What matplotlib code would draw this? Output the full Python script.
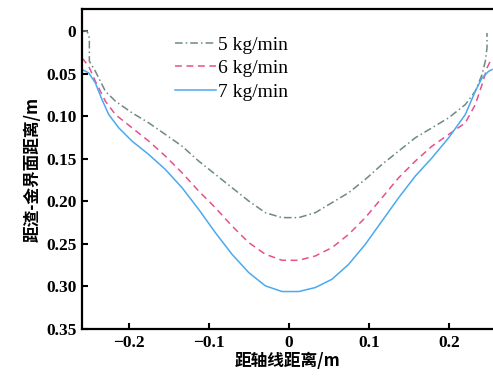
import numpy as np
import matplotlib
matplotlib.use('Agg')
import matplotlib.pyplot as plt

########################################################
# data (x in m, depth in m)
x_5 = [-0.2588, -0.2525, -0.2496, -0.2496, -0.2421, -0.2296, -0.2171, -0.1963, -0.1754, -0.1546,
       -0.1338, -0.1129, -0.0921, -0.0713, -0.0504, -0.0296, -0.0088, 0.0121, 0.0329, 0.0538,
       0.0746, 0.0954, 0.1163, 0.1371, 0.1579, 0.1788, 0.1996, 0.2204, 0.2329, 0.2413,
       0.2454, 0.2475, 0.2475]
y_5 = [0.0, 0.0, 0.0082, 0.0355, 0.0473, 0.0707, 0.0824, 0.0961, 0.1079, 0.1215,
       0.1352, 0.1528, 0.1684, 0.1840, 0.1997, 0.2134, 0.2192, 0.2192, 0.2134, 0.2016,
       0.1899, 0.1743, 0.1567, 0.1410, 0.1254, 0.1137, 0.1020, 0.0864, 0.0707, 0.0512,
       0.0355, 0.0199, 0.0023]

x_6 = [-0.2588, -0.2504, -0.2421, -0.2296, -0.2171, -0.1963, -0.1754, -0.1546, -0.1338, -0.1129,
       -0.0921, -0.0713, -0.0504, -0.0296, -0.0088, 0.0121, 0.0329, 0.0538, 0.0746, 0.0954,
       0.1163, 0.1371, 0.1579, 0.1788, 0.1996, 0.2204, 0.2329, 0.2413, 0.2475, 0.2517]
y_6 = [0.0317, 0.0414, 0.0590, 0.0824, 0.0981, 0.1137, 0.1293, 0.1469, 0.1665, 0.1880,
       0.2075, 0.2290, 0.2485, 0.2622, 0.2693, 0.2693, 0.2642, 0.2544, 0.2388, 0.2192,
       0.1958, 0.1723, 0.1528, 0.1352, 0.1215, 0.1079, 0.0864, 0.0629, 0.0434, 0.0355]

x_7 = [-0.2588, -0.2504, -0.2421, -0.2338, -0.2254, -0.2129, -0.1963, -0.1754, -0.1546, -0.1338,
       -0.1129, -0.0921, -0.0713, -0.0504, -0.0296, -0.0088, 0.0121, 0.0329, 0.0538, 0.0746,
       0.0954, 0.1163, 0.1371, 0.1579, 0.1788, 0.1996, 0.2204, 0.2329, 0.2413, 0.2496, 0.2538]
y_7 = [0.0453, 0.0492, 0.0610, 0.0805, 0.0981, 0.1137, 0.1293, 0.1450, 0.1626, 0.1840,
       0.2095, 0.2368, 0.2622, 0.2837, 0.2993, 0.3060, 0.3060, 0.3013, 0.2915, 0.2740,
       0.2505, 0.2231, 0.1958, 0.1704, 0.1489, 0.1254, 0.0981, 0.0707, 0.0551, 0.0473, 0.0453]

labels = ['5 kg/min', '6 kg/min', '7 kg/min']
xticks = [-0.2, -0.1, 0, 0.1, 0.2]
xtick_labels = ['\u22120.2', '\u22120.1', '0', '0.1', '0.2']
yticks = [0, 0.05, 0.10, 0.15, 0.20, 0.25, 0.30, 0.35]
ytick_labels = ['0', '0.05', '0.10', '0.15', '0.20', '0.25', '0.30', '0.35']

########################################################
cjk = ['Noto Sans CJK SC', 'DejaVu Sans']
serif = 'Liberation Serif'

fig = plt.figure(figsize=(4.93, 3.78), dpi=100)
ax = fig.add_axes([0.1663, 0.1296, 0.8337, 0.8466])

ax.plot(x_5, y_5, color='#6e8a84', linestyle=(0, (5, 2, 1, 2)), linewidth=1.1, label=labels[0])
ax.plot(x_6, y_6, color='#e8508c', linestyle=(0, (4.5, 3)), linewidth=1.1, label=labels[1])
ax.plot(x_7, y_7, color='#4ba9f0', linestyle='-', linewidth=1.1, label=labels[2])

ax.set_xlim(-0.2588, 0.255)
ax.set_ylim(0.3494, -0.0258)

ax.set_xticks(xticks)
ax.set_xticklabels(xtick_labels, fontfamily=serif, fontweight='bold', fontsize=12.5)
ax.set_yticks(yticks)
ax.set_yticklabels(ytick_labels, fontfamily=serif, fontweight='bold', fontsize=12.5)
ax.tick_params(direction='in', length=4, width=1.5, pad=4)

for s in ['left', 'bottom', 'top']:
    ax.spines[s].set_linewidth(1.6)
ax.spines['right'].set_visible(False)

ax.set_xlabel('距轴线距离/m', family=cjk, fontweight='bold', fontsize=12, labelpad=1)
ax.set_ylabel('距渣-金界面距离/m', family=cjk, fontweight='bold', fontsize=12, labelpad=3)

leg = ax.legend(loc='upper left', bbox_to_anchor=(0.226, 0.915), frameon=False,
                prop={'family': serif, 'size': 14}, handlelength=2.1, handletextpad=0.1,
                labelspacing=0.3, borderaxespad=0, borderpad=0)

fig.savefig('out.png', dpi=100)
